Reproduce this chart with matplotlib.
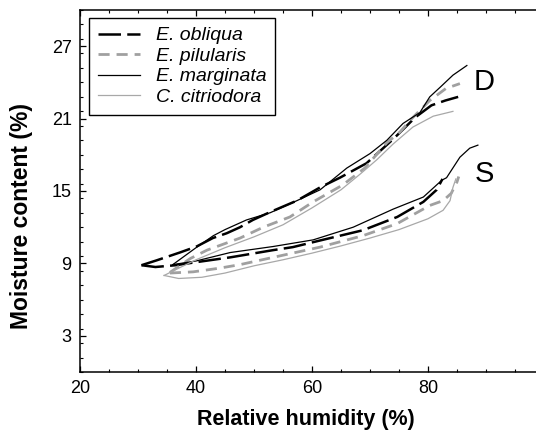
import matplotlib
matplotlib.use("Agg")
import matplotlib.pyplot as plt
from matplotlib.ticker import MultipleLocator

plt.rcParams['font.family'] = ['Liberation Sans', 'DejaVu Sans']

# desorption (D) and sorption (S) curves
obl_d_x = [30.6, 33.2, 37.2, 40.1, 42.9, 45.3, 47.6, 49.8, 53.0, 57.4, 61.4, 64.8, 69.4, 74.0, 77.8, 80.6, 83.0, 85.2]
obl_d_y = [8.85, 9.25, 9.9, 10.4, 11.1, 11.5, 12.0, 12.6, 13.3, 14.2, 15.3, 16.1, 17.3, 19.3, 21.1, 22.1, 22.5, 22.8]
obl_s_x = [30.6, 33.0, 36.5, 40.0, 45.9, 53.3, 56.7, 61.4, 68.8, 74.7, 79.2, 81.5, 82.5]
obl_s_y = [8.85, 8.7, 8.85, 9.1, 9.5, 10.1, 10.35, 10.9, 11.75, 12.85, 14.1, 15.1, 16.0]

pil_d_x = [35.5, 39.0, 41.9, 47.6, 51.6, 56.2, 60.2, 65.3, 69.1, 72.9, 75.2, 77.0, 80.3, 83.1, 85.5]
pil_d_y = [8.25, 9.4, 10.1, 11.1, 12.0, 12.85, 14.1, 15.5, 16.9, 19.0, 19.9, 20.9, 22.5, 23.5, 23.9]
pil_s_x = [35.5, 39.5, 44.0, 47.6, 53.3, 61.4, 68.8, 74.7, 80.3, 82.6, 84.0, 85.0, 85.3]
pil_s_y = [8.2, 8.3, 8.6, 8.9, 9.5, 10.35, 11.3, 12.3, 13.8, 14.2, 14.8, 15.75, 16.2]

mar_d_x = [36.0, 40.0, 43.0, 45.0, 48.7, 52.8, 57.4, 61.4, 66.0, 70.0, 72.9, 75.7, 78.6, 80.3, 82.1, 84.3, 86.7]
mar_d_y = [8.9, 10.3, 11.3, 11.8, 12.6, 13.2, 14.2, 15.1, 16.9, 18.1, 19.2, 20.6, 21.5, 22.8, 23.6, 24.6, 25.4]
mar_s_x = [36.0, 40.0, 45.9, 53.3, 60.2, 67.1, 74.0, 79.2, 82.4, 83.2, 85.5, 87.2, 88.6]
mar_s_y = [8.9, 9.2, 9.9, 10.4, 10.95, 12.0, 13.5, 14.5, 15.9, 16.1, 17.8, 18.55, 18.8]

cit_d_x = [34.5, 37.0, 40.0, 45.0, 50.0, 55.0, 60.0, 65.0, 68.3, 71.2, 74.0, 77.4, 80.9, 84.3]
cit_d_y = [8.0, 8.6, 9.3, 10.3, 11.2, 12.2, 13.6, 15.1, 16.4, 17.6, 18.9, 20.3, 21.2, 21.6]
cit_s_x = [34.5, 37.0, 41.0, 45.0, 50.0, 55.0, 60.0, 65.0, 70.0, 75.0, 80.0, 82.6, 83.8, 84.3, 84.8]
cit_s_y = [8.0, 7.75, 7.85, 8.2, 8.8, 9.3, 9.85, 10.45, 11.1, 11.8, 12.7, 13.4, 14.2, 15.3, 16.0]

species = ['E. obliqua', 'E. pilularis', 'E. marginata', 'C. citriodora']
curves = [(obl_d_x, obl_d_y, obl_s_x, obl_s_y),
          (pil_d_x, pil_d_y, pil_s_x, pil_s_y),
          (mar_d_x, mar_d_y, mar_s_x, mar_s_y),
          (cit_d_x, cit_d_y, cit_s_x, cit_s_y)]
styles = [dict(color='black', lw=1.8, dashes=(9, 2.5)),
          dict(color='#a0a0a0', lw=2.0, dashes=(4, 2.5)),
          dict(color='black', lw=0.9),
          dict(color='#a8a8a8', lw=0.9)]

fig = plt.figure(figsize=(5.36, 4.3), dpi=100)
ax = fig.add_axes([80 / 536, 58 / 430, 464 / 536, 362 / 430])

for name, (dx, dy, sx, sy), st in zip(species, curves, styles):
    ax.plot(dx, dy, label=name, **st)
    ax.plot(sx, sy, **st)

ax.text(89.6, 24.0, 'D', fontsize=21, ha='center', va='center')
ax.text(89.8, 16.4, 'S', fontsize=21, ha='center', va='center')

ax.set_xlim(20, 100)
ax.set_ylim(0, 30)
ax.set_xticks([20, 40, 60, 80])
ax.xaxis.set_minor_locator(MultipleLocator(5))
ax.set_yticks([3, 9, 15, 21, 27])
ax.yaxis.set_minor_locator(MultipleLocator(1.2))
ax.tick_params(which='both', direction='in', top=True, right=True, labelsize=13, pad=6)
ax.tick_params(which='major', length=4, width=0.9)
ax.tick_params(which='minor', length=2.5, width=0.8, right=False)
for s in ax.spines.values():
    s.set_linewidth(1.1)

ax.set_xlabel('Relative humidity (%)', fontsize=15.5, fontweight='bold')
ax.set_ylabel('Moisture content (%)', fontsize=16.5, fontweight='bold')
ax.xaxis.set_label_coords(0.486, -0.102)
ax.yaxis.set_label_coords(-0.101, 0.43)

leg = ax.legend(loc='upper left', bbox_to_anchor=(0.02, 0.978), borderaxespad=0,
                fancybox=False, edgecolor='black', framealpha=1,
                prop=dict(style='italic', size=14), handlelength=2.15,
                handletextpad=0.82, labelspacing=0.15, borderpad=0.45)
leg.get_frame().set_linewidth(1.0)

fig.savefig('out.png', dpi=100)
